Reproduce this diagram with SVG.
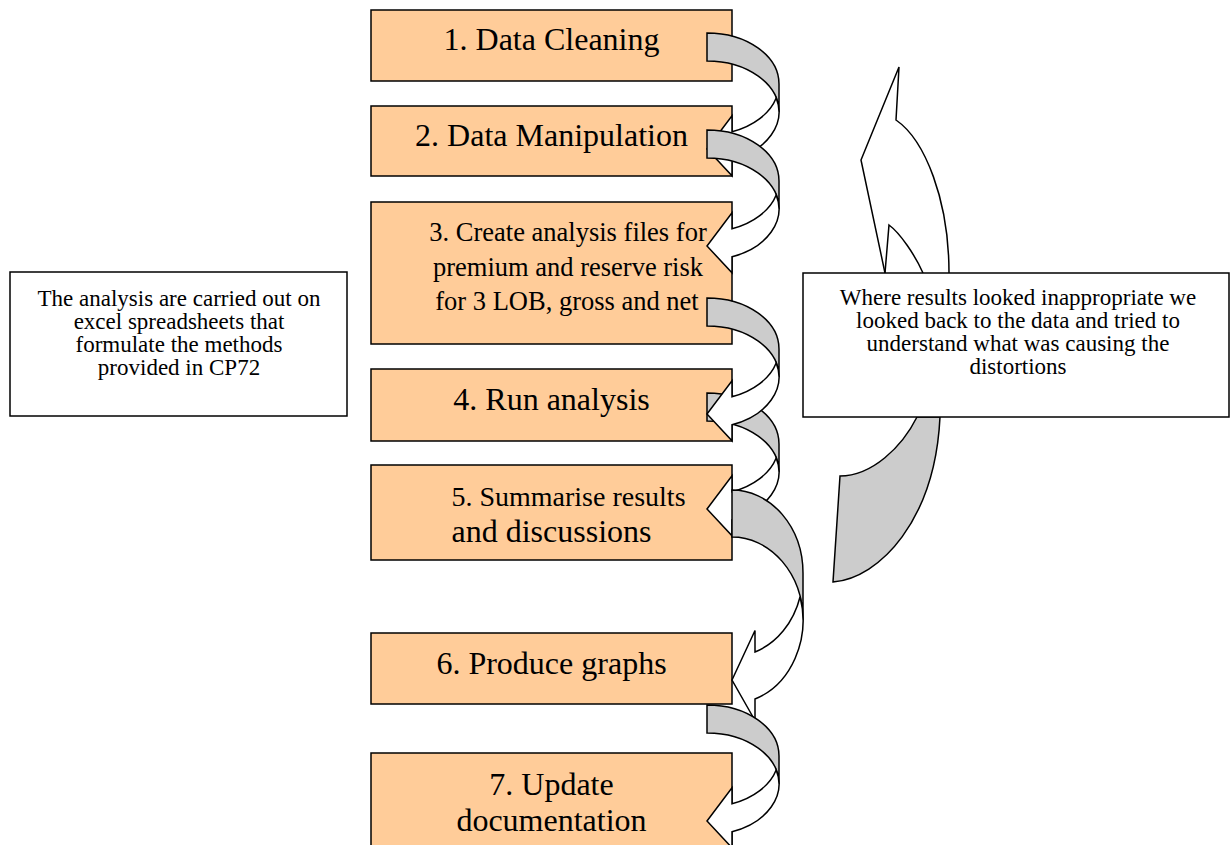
<svg xmlns="http://www.w3.org/2000/svg" xmlns:xlink="http://www.w3.org/1999/xlink" width="1231" height="845" viewBox="0 0 1231 845">
<style>
.box{fill:#FFCC99;stroke:#000;stroke-width:1.5}
.tb{fill:#fff;stroke:#000;stroke-width:1.5}
.bt{font-family:"Liberation Serif","Times New Roman",serif;font-size:32px;fill:#000;text-anchor:middle}
.bs{font-size:26.5px}
.st{font-family:"Liberation Serif","Times New Roman",serif;font-size:23px;fill:#000;text-anchor:middle}
.shade{fill:#CCCCCC;stroke:#000;stroke-width:1.5;stroke-linejoin:miter}
.front{fill:#fff;stroke:#000;stroke-width:1.5;stroke-linejoin:miter}
</style>
<defs>
<path id="sa" d="M707,0 A72,51 0 0 1 779,51 L779,79 A72,51 0 0 0 707,28 Z"/>
<path id="fa" d="M707,116 L732,82.8 L732,98.8 A72,51 0 0 0 776.2,65 A72,51 0 0 1 732,126.8 L732,142.8 Z"/>
</defs>
<rect width="1231" height="845" fill="#fff"/>
<g id="box1"><rect class="box" x="371" y="10" width="361" height="71"/><text class="bt" x="551.5" y="50">1. Data Cleaning</text></g>
<g id="box2"><rect class="box" x="371" y="106" width="361" height="70"/><text class="bt" x="551.5" y="146">2. Data Manipulation</text></g>
<g id="box3"><rect class="box" x="371" y="202" width="361" height="142"/><text class="bt bs" x="568" y="241">3. Create analysis files for</text><text class="bt bs" x="568" y="276">premium and reserve risk</text><text class="bt bs" x="567" y="310">for 3 LOB, gross and net</text></g>
<g id="box4"><rect class="box" x="371" y="369" width="361" height="72"/><text class="bt" x="551.5" y="410">4. Run analysis</text></g>
<g id="box5"><rect class="box" x="371" y="465" width="361" height="95"/><text class="bt" x="568.5" y="506" style="font-size:28px">5. Summarise results</text><text class="bt" x="551.5" y="542">and discussions</text></g>
<g id="box6"><rect class="box" x="371" y="633" width="361" height="71"/><text class="bt" x="551.5" y="674">6. Produce graphs</text></g>
<g id="box7"><rect class="box" x="371" y="753" width="361" height="100"/><text class="bt" x="551.5" y="795">7. Update</text><text class="bt" x="551.5" y="831">documentation</text></g>
<g id="connectors">
<g id="arrow1"><use xlink:href="#sa" href="#sa" class="shade" y="33"/><use xlink:href="#fa" href="#fa" class="front" y="33"/></g>
<g id="arrow2"><use xlink:href="#sa" href="#sa" class="shade" y="130"/><use xlink:href="#fa" href="#fa" class="front" y="130"/></g>
<g id="arrow4"><use xlink:href="#sa" href="#sa" class="shade" y="393"/><use xlink:href="#fa" href="#fa" class="front" y="393"/></g>
<g id="arrow3"><use xlink:href="#sa" href="#sa" class="shade" y="298"/><use xlink:href="#fa" href="#fa" class="front" y="298"/></g>
<g id="arrow5"><path class="shade" d="M732,490 A71,83.25 0 0 1 803,573.25 L803,620.25 A71,83.25 0 0 0 732,537 Z"/><path class="front" d="M732,680 L755,630.5 L755,652 A71,83.25 0 0 0 800.1,596.75 A71,83.25 0 0 1 755,699 L755,720.5 Z"/></g>
<g id="arrow6"><use xlink:href="#sa" href="#sa" class="shade" y="705"/><use xlink:href="#fa" href="#fa" class="front" y="705"/></g>
<g id="feedback">
<path class="shade" d="M917,417 C902,447 872,476 840,476 L833,582 C880,578 935,520 940,417 Z"/>
<path class="front" d="M885,290 L885,273 L861,160 L899,67 L896,120 C925,140 949,200 949,273 L949,290 Z"/>
<path fill="none" stroke="#000" stroke-width="1.5" d="M885,273 L889,225 C900,233 915,255 923,273"/>
</g>
</g>
<g id="note-left"><rect class="tb" x="10" y="272" width="337" height="144"/>
<text class="st" x="179" y="306">The analysis are carried out on</text>
<text class="st" x="179" y="329">excel spreadsheets that</text>
<text class="st" x="179" y="352">formulate the methods</text>
<text class="st" x="179" y="375">provided in CP72</text></g>
<g id="note-right"><rect class="tb" x="803" y="273" width="426" height="144"/>
<text class="st" x="1018" y="305">Where results looked inappropriate we</text>
<text class="st" x="1018" y="328">looked back to the data and tried to</text>
<text class="st" x="1018" y="351">understand what was causing the</text>
<text class="st" x="1018" y="374">distortions</text></g>
</svg>
